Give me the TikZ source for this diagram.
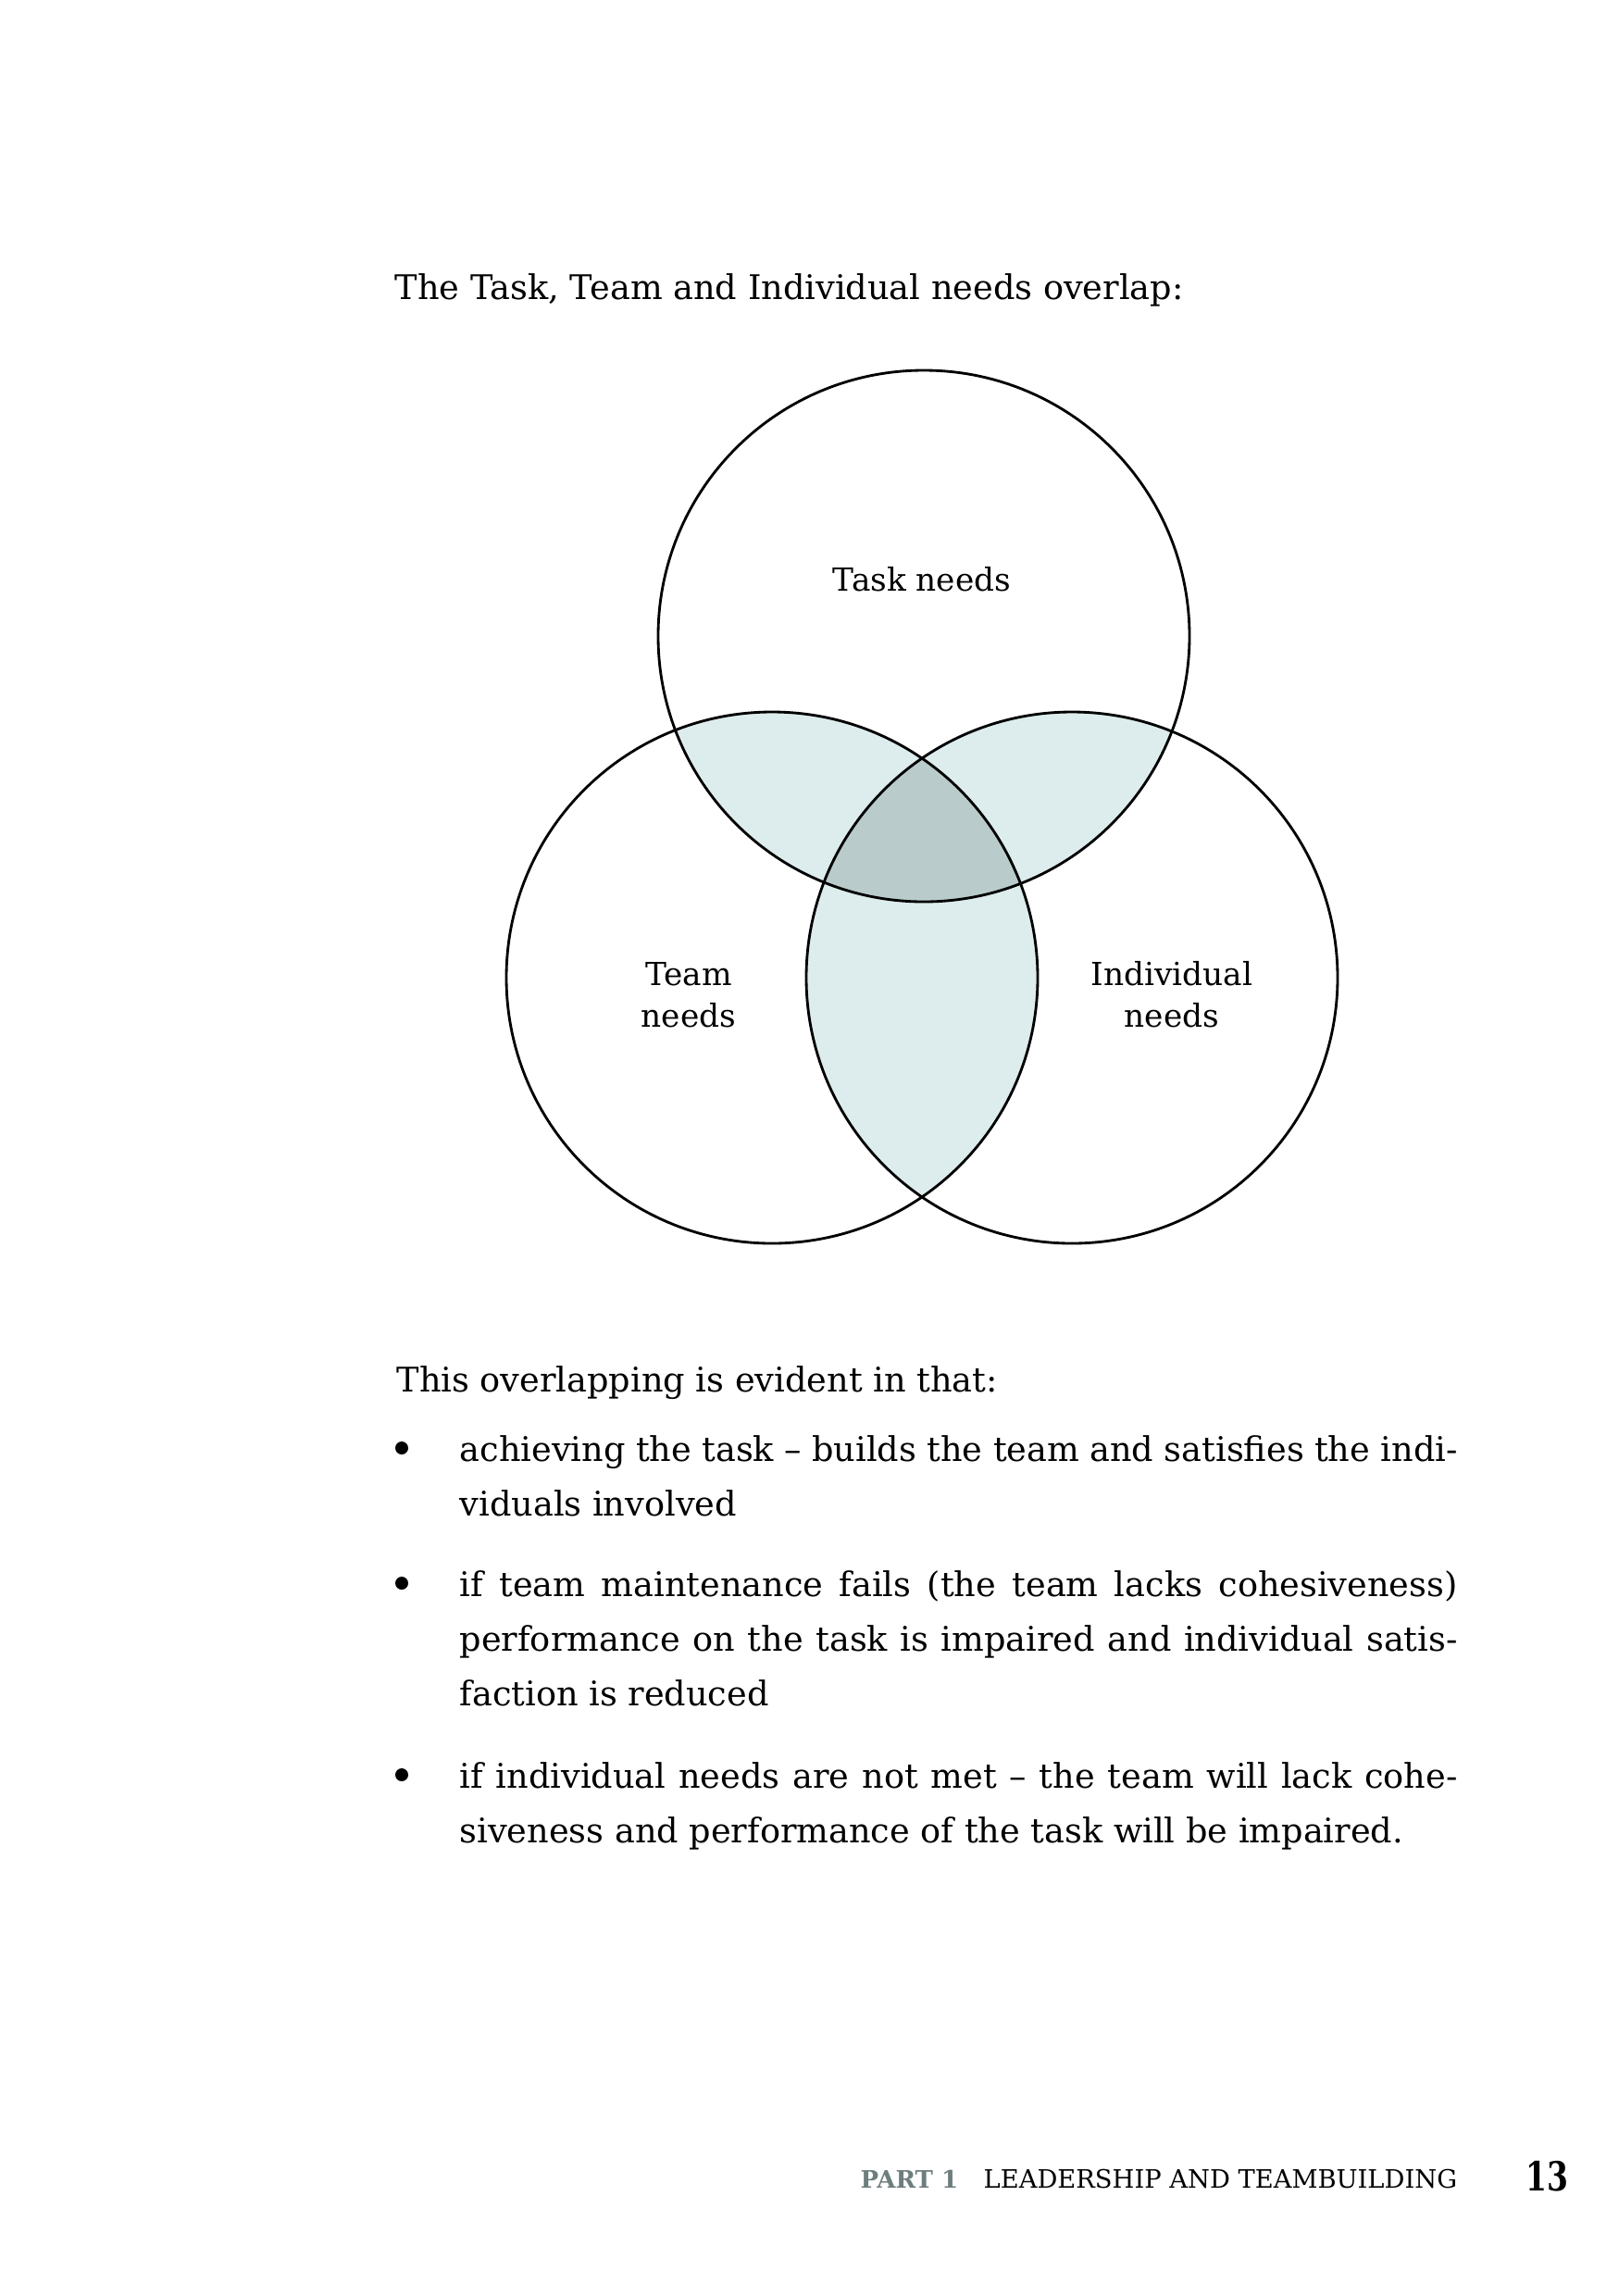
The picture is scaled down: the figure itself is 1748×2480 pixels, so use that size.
\documentclass[tikz,border=0pt]{standalone}
\usepackage{fontspec}
\setmainfont{DejaVu Serif}
\newfontfamily\pagefont{DejaVu Serif}[FakeStretch=0.76]
\definecolor{lightfill}{RGB}{221,236,236}
\definecolor{darkfill}{RGB}{185,203,203}
\definecolor{partgray}{RGB}{110,125,125}
\newlength{\linew}
\setlength{\linew}{323.4pt}
\begin{document}
\begin{tikzpicture}[x=0.3pt,y=-0.3pt,
  venn/.style={draw=black,line width=0.85pt},
  body/.style={anchor=base west,inner sep=0pt,font=\fontsize{11}{17.7}\selectfont},
  lab/.style={inner sep=0pt,align=center,font=\fontsize{10.3}{13.3}\selectfont},
  bul/.style={circle,fill=black,inner sep=0pt,minimum size=4.2pt}]
\useasboundingbox (0,0) rectangle (1748,2480);
\fill[white] (0,0) rectangle (1748,2480);
% circle centres
\coordinate (cT) at (998,687);
\coordinate (cL) at (834,1056);
\coordinate (cR) at (1158,1056);
% pairwise overlaps
\begin{scope}
  \clip (cT) circle[radius=86.1pt];
  \fill[lightfill] (cL) circle[radius=86.1pt];
  \fill[lightfill] (cR) circle[radius=86.1pt];
\end{scope}
\begin{scope}
  \clip (cL) circle[radius=86.1pt];
  \fill[lightfill] (cR) circle[radius=86.1pt];
\end{scope}
% triple overlap
\begin{scope}
  \clip (cT) circle[radius=86.1pt];
  \clip (cL) circle[radius=86.1pt];
  \fill[darkfill] (cR) circle[radius=86.1pt];
\end{scope}
\draw[venn] (cT) circle[radius=86.1pt];
\draw[venn] (cL) circle[radius=86.1pt];
\draw[venn] (cR) circle[radius=86.1pt];
% labels (base = last line)
\node[lab,anchor=base] (task) at (996,638) {Task needs};
\node[lab,anchor=base] (team) at (744,1109) {Team\\needs};
\node[lab,anchor=base] (indiv) at (1266,1109) {Individual\\needs};
% heading
\node[body] (head) at (426,323) {The Task, Team and Individual needs overlap:};
\node[body] (intro) at (428,1503) {This overlapping is evident in that:};
% bullets
\node[bul] (b1) at (434,1564) {};
\node[bul] (b2) at (434,1710) {};
\node[bul] (b3) at (434,1917) {};
\node[body] (l1a) at (496,1578) {\makebox[\linew][s]{achieving the task – builds the team and satisfies the indi-}};
\node[body] (l1b) at (496,1637) {viduals involved};
\node[body] (l2a) at (496,1724) {\makebox[\linew][s]{if team maintenance fails (the team lacks cohesiveness)}};
\node[body] (l2b) at (496,1783) {\makebox[\linew][s]{performance on the task is impaired and individual satis-}};
\node[body] (l2c) at (496,1842) {faction is reduced};
\node[body] (l3a) at (496,1931) {\makebox[\linew][s]{if individual needs are not met – the team will lack cohe-}};
\node[body] (l3b) at (496,1990) {siveness and performance of the task will be impaired.};
% footer
\node[anchor=base west,inner sep=0pt,font=\fontsize{7.8}{10}\selectfont\bfseries,text=partgray] (part) at (929,2363) {PART 1};
\node[anchor=base west,inner sep=0pt,font=\fontsize{8.2}{10}\selectfont] (lead) at (1062,2363) {LEADERSHIP AND TEAMBUILDING};
\node[anchor=base west,inner sep=0pt,font=\fontsize{13}{15}\pagefont\bfseries] (pg) at (1648,2366) {13};
\end{tikzpicture}
\end{document}
